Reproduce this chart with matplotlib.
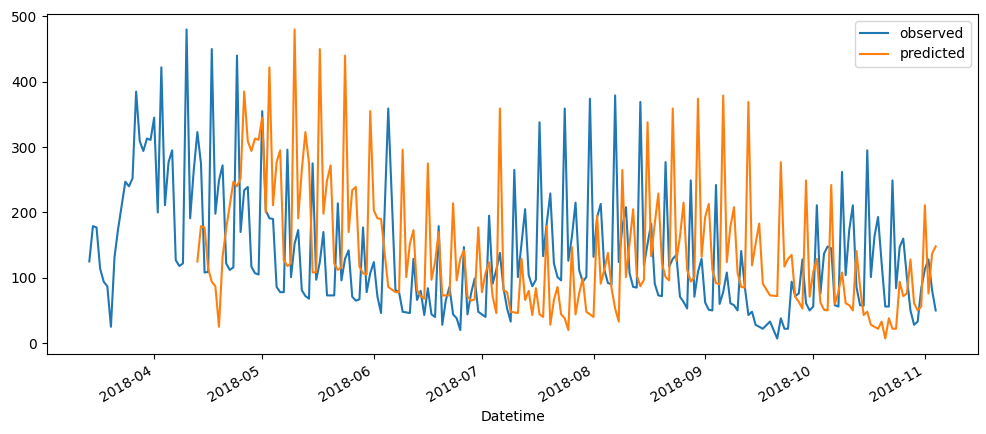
import matplotlib
matplotlib.use("Agg")
import matplotlib.pyplot as plt
import matplotlib.dates as mdates
import pandas as pd

# Observed dates: daily, with a few missing days
start_date = "2018-03-14"
end_date = "2018-11-04"
missing_dates = ["2018-06-04", "2018-06-06", "2018-09-18", "2018-09-20"]

observed = [
    125, 179, 177, 114, 94, 87, 25, 132, 175, 211, 247, 240, 252, 385, 309, 294, 313, 311,
    345, 200, 422, 211, 277, 295, 127, 118, 122, 480, 191, 265, 323, 275, 108, 109, 450,
    198, 249, 272, 122, 112, 116, 440, 170, 234, 239, 117, 107, 105, 355, 203, 191, 190,
    86, 78, 78, 296, 101, 152, 173, 81, 72, 68, 275, 97, 124, 170, 73, 73, 73, 214, 96,
    129, 142, 71, 65, 67, 177, 78, 107, 124, 71, 46, 359, 81, 78, 48, 47, 46, 129, 66,
    80, 43, 84, 44, 40, 179, 28, 66, 86, 44, 38, 20, 147, 44, 76, 99, 48, 44, 40, 195,
    91, 112, 138, 84, 53, 33, 265, 101, 152, 205, 104, 87, 97, 338, 133, 183, 229, 122,
    101, 96, 359, 126, 163, 215, 112, 94, 101, 374, 132, 193, 213, 112, 92, 90, 379, 124,
    178, 208, 107, 86, 85, 369, 119, 152, 183, 91, 73, 72, 277, 117, 129, 135, 71, 63, 53,
    249, 71, 109, 129, 62, 51, 50, 242, 60, 78, 108, 61, 58, 50, 141, 86, 43, 48, 28, 25,
    22, 33, 7, 38, 22, 22, 94, 72, 76, 128, 61, 50, 56, 211, 76, 137, 148, 145, 58, 56,
    262, 104, 173, 211, 86, 58, 57, 295, 101, 163, 193, 122, 56, 56, 249, 84, 147, 160,
    101, 50, 28, 33, 84, 113, 128, 81, 50,
]

# Predicted values (start 30 observations after the first observed date)
predicted_offset = 30
predicted = [
    125, 179, 177, 114, 94, 87, 25, 132, 175, 211, 247, 240, 252, 385, 309, 294, 313, 311,
    345, 200, 422, 211, 277, 295, 127, 118, 122, 480, 191, 265, 323, 275, 108, 109, 450,
    198, 249, 272, 122, 112, 116, 440, 170, 234, 239, 117, 107, 105, 355, 203, 191, 190,
    86, 78, 78, 296, 101, 152, 173, 81, 72, 68, 275, 97, 124, 170, 73, 73, 73, 214, 96,
    129, 142, 71, 65, 67, 177, 78, 107, 124, 71, 46, 359, 81, 78, 48, 47, 46, 129, 66,
    80, 43, 84, 44, 40, 179, 28, 66, 86, 44, 38, 20, 147, 44, 76, 99, 48, 44, 40, 195,
    91, 112, 138, 84, 53, 33, 265, 101, 152, 205, 104, 87, 97, 338, 133, 183, 229, 122,
    101, 96, 359, 126, 163, 215, 112, 94, 101, 374, 132, 193, 213, 112, 92, 90, 379, 124,
    178, 208, 107, 86, 85, 369, 119, 152, 183, 91, 73, 72, 277, 117, 129, 135, 71, 63, 53,
    249, 71, 109, 129, 62, 51, 50, 242, 60, 78, 108, 61, 58, 50, 141, 86, 43, 48, 28, 25,
    22, 33, 7, 38, 22, 22, 94, 72, 76, 128, 61, 50, 56, 211, 76, 137, 148,
]

dates = pd.date_range(start_date, end_date, freq="D")
dates = dates[~dates.isin(pd.to_datetime(missing_dates))]
obs_series = pd.Series(observed, index=dates[:len(observed)])
pred_series = pd.Series(predicted, index=dates[predicted_offset:predicted_offset + len(predicted)])

fig = plt.figure(figsize=(9.86, 4.34), dpi=100)
ax = fig.add_axes([47 / 986, 80 / 434, 931 / 986, 340 / 434])
ax.plot(obs_series.index, obs_series.values, color="C0", label="observed")
ax.plot(pred_series.index, pred_series.values, color="C1", label="predicted")

ax.xaxis.set_major_locator(mdates.MonthLocator())
ax.xaxis.set_major_formatter(mdates.DateFormatter("%Y-%m"))
for lbl in ax.get_xticklabels():
    lbl.set_rotation(30)
    lbl.set_ha("right")
ax.set_xlabel("Datetime")
ax.legend(loc="upper right")

fig.savefig("out.png", dpi=100)
